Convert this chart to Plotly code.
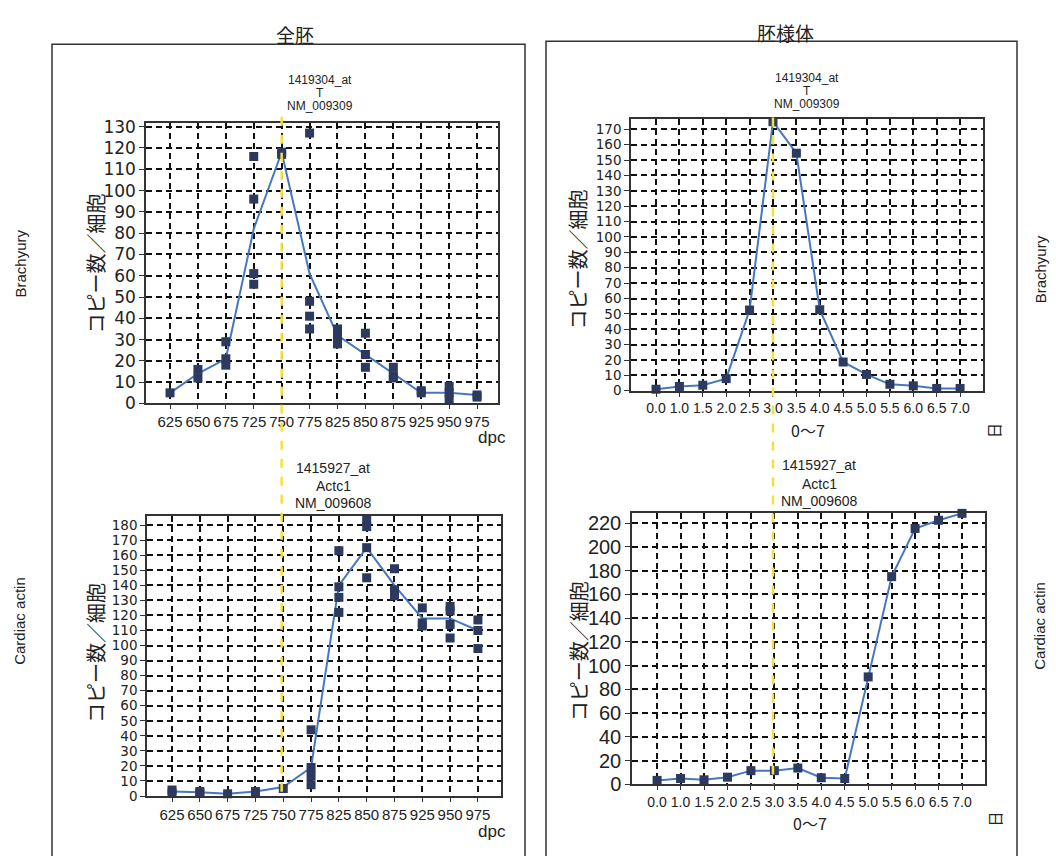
import plotly.graph_objects as go

W, H = 1056, 856

# ---------------- data ----------------
whole_cats = ["625", "650", "675", "725", "750", "775", "825", "850", "875", "925", "950", "975"]
eb_cats = ["0.0", "1.0", "1.5", "2.0", "2.5", "3.0", "3.5", "4.0", "4.5", "5.0", "5.5", "6.0", "6.5", "7.0"]

# Brachyury, whole embryo: replicate points
bra_whole_pt_x = ["625", "650", "650", "675", "675", "675", "725", "725", "725", "725",
                  "750", "750", "775", "775", "775", "775", "825", "825", "825",
                  "850", "850", "850", "875", "875", "875", "925", "925", "950", "950", "950", "975", "975"]
bra_whole_pt_y = [5, 16, 12, 29, 21, 18, 116, 96, 61, 56,
                  118, 117, 127, 48, 41, 35, 35, 32, 28,
                  33, 23, 17, 17, 13, 12, 5, 6, 8, 5, 2, 4, 3]
# Brachyury, whole embryo: mean line
bra_whole_line = [5, 14, 21, 82, 118, 61, 32, 23, 14, 5, 5, 4]

# Cardiac actin, whole embryo: replicate points
act_whole_pt_x = ["625", "625", "650", "650", "675", "725", "750",
                  "775", "775", "775", "775", "825", "825", "825", "825",
                  "850", "850", "850", "850", "875", "875", "875",
                  "925", "925", "925", "950", "950", "950", "950", "975", "975", "975"]
act_whole_pt_y = [4, 2, 3, 2, 1.5, 3, 5,
                  44, 19, 13.5, 7.5, 163, 139, 132, 122,
                  184, 179, 165, 145, 151, 137, 133,
                  125, 115, 113, 126, 123, 114, 105, 117, 110, 98]
act_whole_line = [3, 2.5, 1.5, 3, 6, 19, 140, 165, 140, 118, 118, 110]

# Embryoid body time courses
bra_eb = [1, 2.8, 3.6, 7.9, 52.5, 175, 154.5, 52.7, 18.7, 10.6, 4.2, 3.2, 1.5, 1.5]
act_eb = [3.3, 4.9, 3.8, 6, 11.5, 11.5, 13.7, 5.5, 4.9, 90.5, 175, 215.6, 222.5, 228.3]

whole_mark = "750"
eb_mark = "3.0"

# ---------------- style ----------------
LINE_C = "#4677c0"
MARK_C = "#2b3a5e"
YEL = "#f4e23c"
NARROW = "Liberation Sans Narrow, Liberation Sans, Arial, sans-serif"
SANS = "Liberation Sans, Arial, sans-serif"
DJV = "DejaVu Sans, sans-serif"
CJK = "Noto Sans CJK JP, sans-serif"


def px_x(px):
    return px / W


def px_y(py):
    return 1 - py / H


fig = go.Figure()

panels = [
    # (xaxis, yaxis, cats, x domain px, y domain px, xrange, yrange, dtick, ytick font, xtick size)
    ("x", "y", whole_cats, (146, 498), (119, 405), [-0.86, 11.75], [0, 131.5], 10, dict(family=DJV, size=17), 15),
    ("x2", "y2", eb_cats, (631, 983), (114, 392), [-1.07, 13.98], [0, 177], 10, dict(family=DJV, size=13.5), 14),
    ("x3", "y3", whole_cats, (147, 501), (520, 806), [-0.9, 11.83], [0, 186], 10, dict(family=DJV, size=13.5), 15),
    ("x4", "y4", eb_cats, (632, 985), (517, 794), [-1.07, 13.98], [0, 228.5], 20, dict(family=SANS, size=20), 14),
]

layout_axes = {}
for xa, ya, cats, dx, dy, xr, yr, dt, yfont, xts in panels:
    xname = "xaxis" + xa[1:]
    yname = "yaxis" + ya[1:]
    layout_axes[xname] = dict(
        domain=[px_x(dx[0]), px_x(dx[1])], anchor=ya, type="category",
        categoryorder="array", categoryarray=cats, range=xr,
        showgrid=True, gridcolor="#111", griddash="6px,4px", gridwidth=1.5,
        showline=True, linecolor="#333", linewidth=1.5, mirror=True,
        ticks="outside", ticklen=4, tickcolor="#333", tickangle=0,
        tickfont=dict(family=NARROW, size=xts, color="#222"), zeroline=False,
        fixedrange=True,
    )
    layout_axes[yname] = dict(
        domain=[px_y(dy[1]), px_y(dy[0])], anchor=xa, range=yr,
        dtick=dt, tick0=0,
        showgrid=True, gridcolor="#111", griddash="6px,4px", gridwidth=1.5,
        showline=True, linecolor="#333", linewidth=1.5, mirror=True,
        ticks="outside", ticklen=5, tickcolor="#333",
        tickfont=dict(yfont, color="#222"), zeroline=False,
        fixedrange=True,
    )

MK = dict(symbol="square", size=9, color=MARK_C)
# traces
fig.add_trace(go.Scatter(x=whole_cats, y=bra_whole_line, mode="lines", xaxis="x", yaxis="y",
                         line=dict(color=LINE_C, width=2), cliponaxis=False))
fig.add_trace(go.Scatter(x=bra_whole_pt_x, y=bra_whole_pt_y, mode="markers", xaxis="x", yaxis="y",
                         marker=MK, cliponaxis=False))
fig.add_trace(go.Scatter(x=eb_cats, y=bra_eb, mode="lines+markers", xaxis="x2", yaxis="y2",
                         line=dict(color=LINE_C, width=2), marker=MK, cliponaxis=False))
fig.add_trace(go.Scatter(x=whole_cats, y=act_whole_line, mode="lines", xaxis="x3", yaxis="y3",
                         line=dict(color=LINE_C, width=2), cliponaxis=False))
fig.add_trace(go.Scatter(x=act_whole_pt_x, y=act_whole_pt_y, mode="markers", xaxis="x3", yaxis="y3",
                         marker=MK, cliponaxis=False))
fig.add_trace(go.Scatter(x=eb_cats, y=act_eb, mode="lines+markers", xaxis="x4", yaxis="y4",
                         line=dict(color=LINE_C, width=2), marker=MK, cliponaxis=False))

shapes = [
    # outer boxes
    dict(type="rect", xref="paper", yref="paper", x0=px_x(52), x1=px_x(525), y0=-0.02, y1=px_y(38),
         line=dict(color="#333", width=1.5), layer="below"),
    dict(type="rect", xref="paper", yref="paper", x0=px_x(546), x1=px_x(1017), y0=-0.02, y1=px_y(35),
         line=dict(color="#333", width=1.5), layer="below"),
    # yellow markers
    dict(type="line", xref="x", yref="paper", x0=whole_cats.index(whole_mark), x1=whole_cats.index(whole_mark),
         y0=px_y(112), y1=px_y(806), line=dict(color=YEL, width=2.5, dash="dash")),
    dict(type="line", xref="x2", yref="paper", x0=eb_cats.index(eb_mark), x1=eb_cats.index(eb_mark),
         y0=px_y(113), y1=px_y(794), line=dict(color=YEL, width=2.5, dash="dash")),
]

ann = []


def add_text(text, x, y, size, family=SANS, angle=0, color="#222"):
    ann.append(dict(text=text, x=px_x(x), y=px_y(y), xref="paper", yref="paper",
                    showarrow=False, xanchor="center", yanchor="middle", textangle=angle,
                    font=dict(family=family, size=size, color=color)))


add_text("全胚", 295, 28, 19, CJK)
add_text("胚様体", 785, 26, 19, CJK)

# gene labels
for (lines, cx, ys, sz) in [
    (["1419304_at", "T", "NM_009309"], 320, [75, 88, 101], 12),
    (["1419304_at", "T", "NM_009309"], 807, [73, 86, 99], 12),
    (["1415927_at", "Actc1", "NM_009608"], 333, [471, 489, 507], 14),
    (["1415927_at", "Actc1", "NM_009608"], 819, [468, 487, 505], 14),
]:
    for t, yy in zip(lines, ys):
        add_text(t, cx, yy, sz, NARROW)

# y axis titles
add_text("コピー数／細胞", 95, 262, 20, CJK, -90)
add_text("コピー数／細胞", 578, 258, 20, CJK, -90)
add_text("コピー数／細胞", 95, 660, 20, CJK, -90)
add_text("コピー数／細胞", 578, 658, 20, CJK, -90)

# x axis titles
add_text("dpc", 492, 440, 17, SANS)
add_text("dpc", 492, 842, 17, SANS)
add_text("0〜7", 808, 432, 16, CJK)
add_text("0〜7", 810, 834, 16, CJK)
add_text("日", 994, 433, 15, CJK, -90)
add_text("日", 995, 830, 15, CJK, -90)

# row labels
add_text("Brachyury", 20, 262, 15, SANS, -90)
add_text("Cardiac actin", 20, 627, 15, SANS, -90)
add_text("Brachyury", 1040, 268, 15, SANS, -90)
add_text("Cardiac actin", 1040, 632, 15, SANS, -90)

fig.update_layout(
    width=W, height=H, margin=dict(l=0, r=0, t=0, b=0),
    paper_bgcolor="white", plot_bgcolor="white",
    showlegend=False, shapes=shapes, annotations=ann,
    **layout_axes,
)

post = ("document.documentElement.style.margin='0';document.body.style.margin='0';"
        "document.body.style.overflow='hidden';"
        "var d=document.getElementById('{plot_id}');d.style.position='fixed';d.style.top='0';d.style.left='0';")
fig.write_html("out.html", config={"displayModeBar": False}, post_script=post)
